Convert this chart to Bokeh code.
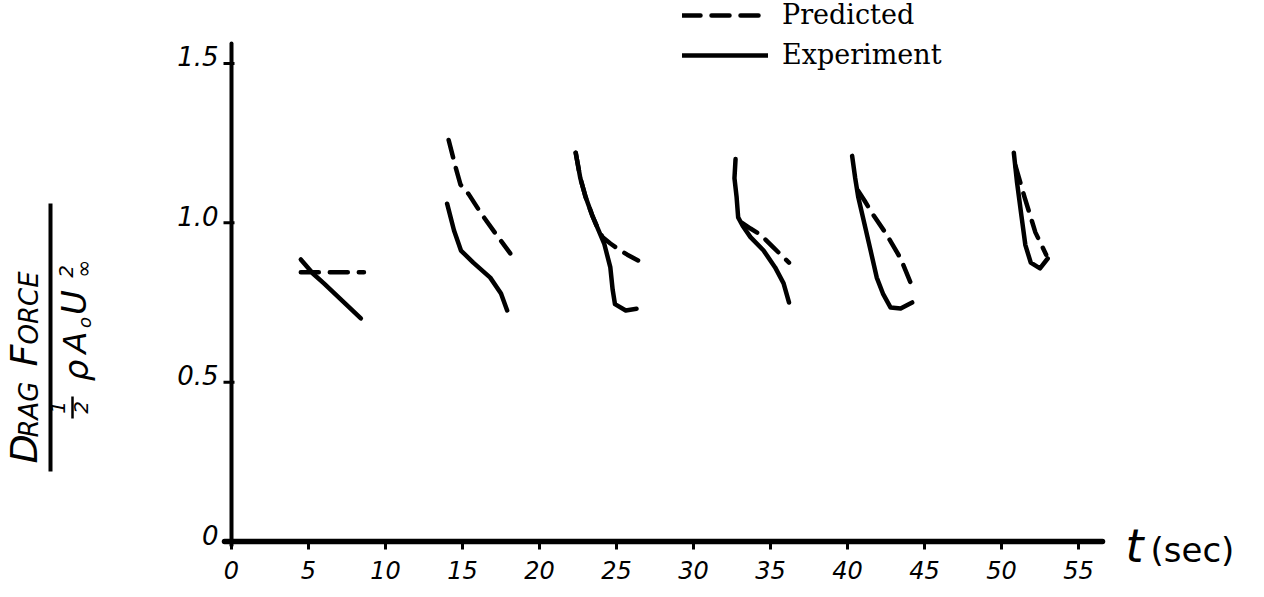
import math
from bokeh.plotting import figure
from bokeh.models import Range1d, Legend, LegendItem, Label, Arrow
from bokeh.core.properties import value
from bokeh.embed import file_html
from bokeh.resources import INLINE

# ---------------- data ----------------
x_ticks = [0, 5, 10, 15, 20, 25, 30, 35, 40, 45, 50, 55]
x_tick_labels = ["0", "5", "10", "15", "20", "25", "30", "35", "40", "45", "50", "55"]
y_ticks = [0, 0.5, 1.0, 1.5]
y_tick_labels = ["0", "0.5", "1.0", "1.5"]

pred1_t = [4.5, 6.5, 8.6]
pred1_v = [0.845, 0.845, 0.845]
exp1_t = [4.5, 5.3, 6.0, 7.2, 8.4]
exp1_v = [0.885, 0.84, 0.81, 0.755, 0.70]

pred2_t = [14.1, 14.55, 14.87, 15.4, 16.2, 17.15, 18.1]
pred2_v = [1.26, 1.175, 1.12, 1.09, 1.03, 0.966, 0.904]
exp2_t = [14.0, 14.45, 14.9, 15.7, 16.8, 17.5, 17.9]
exp2_v = [1.06, 0.976, 0.913, 0.875, 0.828, 0.778, 0.725]

pred3_t = [22.35, 22.65, 23.0, 23.45, 23.85, 24.1, 24.6, 25.1, 25.7, 26.4]
pred3_v = [1.22, 1.14, 1.08, 1.02, 0.975, 0.955, 0.935, 0.918, 0.90, 0.882]
exp3_t = [22.35, 22.65, 23.0, 23.45, 23.85, 24.2, 24.6, 24.75, 24.9, 25.6, 26.3]
exp3_v = [1.22, 1.14, 1.08, 1.02, 0.975, 0.935, 0.86, 0.79, 0.745, 0.725, 0.73]

pred4_t = [33.15, 33.7, 34.35, 35.2, 36.2]
pred4_v = [1.0, 0.982, 0.963, 0.922, 0.875]
exp4_t = [32.73, 32.66, 32.8, 32.9, 33.2, 33.7, 34.55, 35.3, 35.85, 36.2]
exp4_v = [1.20, 1.14, 1.08, 1.017, 0.99, 0.955, 0.913, 0.86, 0.81, 0.75]

pred5_t = [40.7, 41.1, 41.6, 42.5, 43.45, 44.2]
pred5_v = [1.10, 1.07, 1.03, 0.966, 0.888, 0.80]
exp5_t = [40.3, 40.5, 40.7, 41.05, 41.5, 41.9, 42.3, 42.8, 43.45, 44.2]
exp5_v = [1.21, 1.14, 1.08, 1.007, 0.913, 0.828, 0.778, 0.734, 0.731, 0.75]

pred6_t = [50.9, 51.5, 52.2, 52.9]
pred6_v = [1.18, 1.08, 0.97, 0.90]
exp6_t = [50.8, 51.0, 51.3, 51.55, 51.9, 52.5, 53.0]
exp6_v = [1.22, 1.13, 1.02, 0.93, 0.875, 0.857, 0.888]

predicted = [(pred1_t, pred1_v), (pred2_t, pred2_v), (pred3_t, pred3_v),
             (pred4_t, pred4_v), (pred5_t, pred5_v), (pred6_t, pred6_v)]
experiment = [(exp1_t, exp1_v), (exp2_t, exp2_v), (exp3_t, exp3_v),
              (exp4_t, exp4_v), (exp5_t, exp5_v), (exp6_t, exp6_v)]

# ---------------- layout ----------------
W, H = 1264, 597
ORIGIN_X, ORIGIN_Y = 231, 541      # pixel position of (t=0, v=0)
PX_PER_T = 15.4
PX_PER_V = 318.7


def X(px):
    return (px - ORIGIN_X) / PX_PER_T


def Y(py):
    return (ORIGIN_Y - py) / PX_PER_V


p = figure(width=W, height=H, output_backend="svg", toolbar_location=None,
           x_range=Range1d(X(0), X(W)), y_range=Range1d(Y(H), Y(0)),
           x_axis_location=None, y_axis_location=None,
           min_border_left=0, min_border_bottom=0,
           min_border_top=0, min_border_right=0)
p.outline_line_color = None
p.grid.visible = False
p.background_fill_color = "white"
p.border_fill_color = "white"

TICK_FONT = "DejaVu Sans"
x_axis_end = X(1102)
y_axis_end = Y(43)
tick_dx = 8 / PX_PER_T
tick_dy = 8 / PX_PER_V

# axes (drawn through the data scales)
p.line([X(224), x_axis_end], [0, 0], line_color="black", line_width=5.5, line_cap="round")
p.line([0, 0], [Y(545), y_axis_end], line_color="black", line_width=4, line_cap="round")
p.segment(x0=x_ticks, y0=[0] * len(x_ticks), x1=x_ticks, y1=[-tick_dy] * len(x_ticks),
          line_color="black", line_width=3)
p.segment(x0=[-tick_dx] * len(y_ticks), y0=y_ticks, x1=[3 / PX_PER_T] * len(y_ticks), y1=y_ticks,
          line_color="black", line_width=3)
p.text(x=x_ticks, y=[Y(560)] * len(x_ticks), text=x_tick_labels,
       text_font=value(TICK_FONT), text_font_style="italic", text_font_size="24px",
       text_align="center", text_baseline="top", text_color="black")
p.text(x=[X(218)] * len(y_ticks), y=y_ticks, text=y_tick_labels, y_offset=-7,
       text_font=value(TICK_FONT), text_font_style="italic", text_font_size="26px",
       text_align="right", text_baseline="middle", text_color="black")

pred_renderers = []
exp_renderers = []
for t, v in predicted:
    r = p.line(t, v, line_color="black", line_width=4.5, line_dash="18 11",
               line_cap="round", line_join="round")
    pred_renderers.append(r)
for t, v in experiment:
    r = p.line(t, v, line_color="black", line_width=4.5,
               line_cap="round", line_join="round")
    exp_renderers.append(r)

legend = Legend(items=[LegendItem(label="Predicted", renderers=[pred_renderers[0]]),
                       LegendItem(label="Experiment", renderers=[exp_renderers[0]])],
                location=(682, 527), orientation="vertical",
                glyph_width=86, glyph_height=20, label_standoff=14, spacing=9,
                padding=0, margin=0, border_line_color=None,
                background_fill_alpha=0,
                label_text_font="DejaVu Serif", label_text_font_size="27px",
                label_text_color="black")
p.add_layout(legend)

# x axis title to the right of the axis end
p.add_layout(Label(x=X(1125), y=Y(545), text="t", text_font=TICK_FONT,
                   text_font_style="italic", text_font_size="46px",
                   text_align="left", text_baseline="middle", text_color="black"))
p.add_layout(Label(x=X(1150), y=Y(549), text="(sec)", text_font=TICK_FONT,
                   text_font_size="34px", text_align="left",
                   text_baseline="middle", text_color="black"))

# y axis title: fraction, rotated (centre positions of each piece)
ROT = math.pi / 2
for txt, cx, start, size in [("D", 23, 463, "38px"), ("RAG", 28, 437, "26px"),
                             ("F", 23, 366, "38px"), ("ORCE", 28, 344, "26px")]:
    p.add_layout(Label(x=X(cx), y=Y(start), text=txt, angle=ROT,
                       text_font=TICK_FONT, text_font_style="italic",
                       text_font_size=size, text_align="left",
                       text_baseline="middle", text_color="black"))

p.add_layout(Arrow(x_start=X(50), y_start=Y(471), x_end=X(50), y_end=Y(203),
                   start=None, end=None, line_width=4, line_color="black"))

for txt, cx, cy, size in [("1", 57, 407, "20px"), ("2", 80, 407, "20px"),
                          ("\u03c1", 75, 370, "34px"), ("A", 74, 342, "32px"),
                          ("o", 84, 322, "18px"), ("U", 73, 302, "34px"),
                          ("2", 65, 271, "20px"), ("\u221e", 83, 268, "22px")]:
    p.add_layout(Label(x=X(cx), y=Y(cy), text=txt, angle=ROT,
                       text_font=TICK_FONT, text_font_style="italic",
                       text_font_size=size, text_align="center",
                       text_baseline="middle", text_color="black"))
p.add_layout(Arrow(x_start=X(72), y_start=Y(418), x_end=X(72), y_end=Y(396),
                   start=None, end=None, line_width=2.5, line_color="black"))

open("out.html", "w").write(file_html(p, INLINE))
